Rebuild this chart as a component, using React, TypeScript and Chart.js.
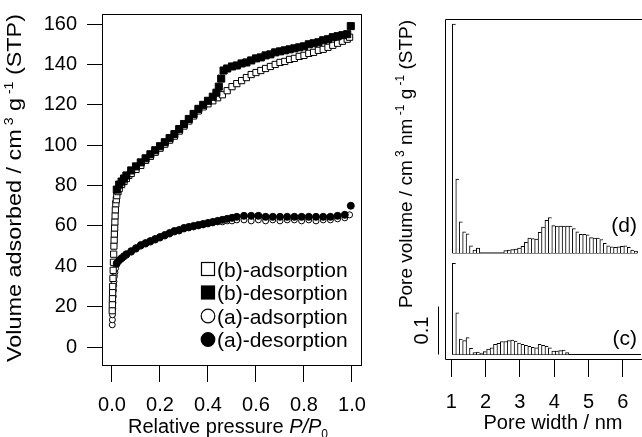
import React, { useEffect, useRef } from "react";
import { Chart, registerables } from "chart.js";

Chart.register(...registerables);

const FONT = '"Liberation Sans", Arial, Helvetica, sans-serif';

// ---------- Isotherms (left panel) ----------
const bAdsP = [0.001, 0.0015, 0.002, 0.0025, 0.003, 0.004, 0.005, 0.006, 0.007, 0.008, 0.009, 0.010, 0.011, 0.012, 0.013, 0.014, 0.016, 0.018, 0.020, 0.025, 0.03, 0.04, 0.05, 0.06, 0.07, 0.08, 0.10, 0.12, 0.14, 0.16, 0.18, 0.20, 0.22, 0.24, 0.26, 0.28, 0.30, 0.32, 0.34, 0.36, 0.38, 0.40, 0.42, 0.44, 0.46, 0.48, 0.50, 0.52, 0.54, 0.56, 0.58, 0.60, 0.62, 0.64, 0.66, 0.68, 0.70, 0.72, 0.74, 0.76, 0.78, 0.80, 0.82, 0.84, 0.86, 0.88, 0.90, 0.92, 0.94, 0.96, 0.98, 0.99];
const bAdsV = [18, 21, 24, 27, 30, 34, 38, 42, 46, 50, 53, 56, 59, 62, 65, 68, 71, 73, 75, 77, 78.5, 80.5, 82, 83.5, 85, 86, 88, 90, 92.5, 94.5, 96.5, 98.5, 100.5, 102.5, 104.5, 107, 109.5, 112, 114.5, 117, 119, 120.5, 122, 123.5, 125, 127, 129, 130.5, 132, 133.5, 135, 136, 137, 138, 139, 140, 141, 141.5, 142.5, 143, 144, 144.5, 145.5, 146, 147, 147.5, 148.5, 149.5, 150.5, 151.5, 152.5, 153.5];

const bDesP = [0.995, 0.98, 0.96, 0.94, 0.92, 0.90, 0.88, 0.86, 0.84, 0.82, 0.80, 0.78, 0.76, 0.74, 0.72, 0.70, 0.68, 0.66, 0.64, 0.62, 0.60, 0.58, 0.56, 0.54, 0.52, 0.50, 0.48, 0.465, 0.455, 0.445, 0.435, 0.42, 0.40, 0.38, 0.36, 0.34, 0.32, 0.30, 0.28, 0.26, 0.24, 0.22, 0.20, 0.18, 0.16, 0.14, 0.12, 0.10, 0.08, 0.06, 0.05, 0.04, 0.03, 0.02];
const bDesV = [159, 155, 154.5, 154, 153.5, 152.5, 152, 151, 150.5, 150, 149, 148.5, 148, 147.5, 147, 146.5, 146, 145, 144.5, 143.5, 143, 142, 141, 140.5, 139.5, 139, 138, 137, 133, 129, 126, 124, 122, 120, 118, 115.5, 113, 110.5, 108, 105.5, 103.5, 101.5, 99.5, 97.5, 95.5, 93.5, 91.5, 89.5, 87.5, 85, 83.5, 82, 80.5, 78];

const aAdsP = [0.001, 0.0015, 0.002, 0.003, 0.004, 0.005, 0.006, 0.007, 0.008, 0.010, 0.012, 0.015, 0.02, 0.03, 0.04, 0.05, 0.06, 0.08, 0.10, 0.12, 0.14, 0.16, 0.18, 0.20, 0.22, 0.24, 0.26, 0.28, 0.30, 0.32, 0.34, 0.36, 0.38, 0.40, 0.42, 0.44, 0.46, 0.48, 0.50, 0.52, 0.55, 0.58, 0.61, 0.64, 0.67, 0.70, 0.73, 0.76, 0.79, 0.82, 0.85, 0.88, 0.91, 0.94, 0.97, 0.99];
const aAdsV = [11, 13.5, 16, 19, 22, 25, 28, 30.5, 32.5, 35, 37, 39, 41, 43, 44, 45, 45.5, 47, 48.5, 50, 51, 52, 53, 54, 55, 56, 57, 57.5, 58.5, 59, 59.5, 60, 60.5, 61, 61.5, 62, 62, 62.5, 62.5, 63, 63, 62.5, 63, 62.5, 63, 62.5, 63, 63, 62.5, 63, 62.5, 63, 63, 63.5, 64, 65.5];

const aDesP = [0.995, 0.97, 0.94, 0.91, 0.88, 0.85, 0.82, 0.79, 0.76, 0.73, 0.70, 0.67, 0.64, 0.61, 0.58, 0.55, 0.52, 0.50, 0.48, 0.46, 0.44, 0.42, 0.40, 0.38, 0.36, 0.34, 0.32, 0.30, 0.28, 0.26, 0.24, 0.22, 0.20, 0.18, 0.16, 0.14, 0.12, 0.10, 0.08, 0.06, 0.05, 0.04, 0.03, 0.02];
const aDesV = [70, 65.5, 65, 64.5, 64.5, 64.5, 64.5, 64.5, 64.5, 64.5, 64.5, 64.5, 64.5, 65, 65, 65, 64.5, 64, 63.5, 63, 62.5, 62, 61.5, 61, 60.5, 60, 59.5, 59, 58, 57.5, 56.5, 55.5, 54.5, 53.5, 52.5, 51.5, 50.5, 49, 47.5, 46, 45, 44, 43, 41.5];

const isoXTicks = [0, 0.2, 0.4, 0.6, 0.8, 1.0];
const isoYTicks = [0, 20, 40, 60, 80, 100, 120, 140, 160];
const legendLabels = ["(b)-adsorption", "(b)-desorption", "(a)-adsorption", "(a)-desorption"];

// ---------- Pore size distributions (right panel) ----------
const binWidth = 0.1;
const binCenters = [1.08, 1.18, 1.28, 1.38, 1.48, 1.58, 1.68, 1.78, 1.88, 1.98, 2.08, 2.18, 2.28, 2.38, 2.48, 2.58, 2.68, 2.78, 2.88, 2.98, 3.08, 3.18, 3.28, 3.38, 3.48, 3.58, 3.68, 3.78, 3.88, 3.98, 4.08, 4.18, 4.28, 4.38, 4.48, 4.58, 4.68, 4.78, 4.88, 4.98, 5.08, 5.18, 5.28, 5.38, 5.48, 5.58, 5.68, 5.78, 5.88, 5.98, 6.08, 6.18, 6.28, 6.38, 6.48];
const cValues = [0.190, 0.087, 0.032, 0.029, 0.035, 0.013, 0.004, 0.005, 0.003, 0.006, 0.011, 0.014, 0.021, 0.023, 0.027, 0.027, 0.029, 0.030, 0.028, 0.024, 0.021, 0.019, 0.017, 0.015, 0.014, 0.021, 0.019, 0.017, 0.014, 0.007, 0.007, 0.008, 0.009, 0.004, 0, 0, 0, 0, 0, 0, 0, 0, 0, 0, 0, 0, 0, 0, 0, 0, 0, 0, 0, 0, 0];
const dValues = [0.477, 0.154, 0.065, 0.044, 0.040, 0.015, 0.006, 0.010, 0, 0, 0, 0, 0, 0, 0, 0.005, 0.006, 0.007, 0.008, 0.010, 0.014, 0.022, 0.031, 0.030, 0.029, 0.043, 0.054, 0.068, 0.074, 0.057, 0.056, 0.056, 0.056, 0.056, 0.056, 0.051, 0.044, 0.039, 0.039, 0.038, 0.032, 0.031, 0.031, 0.028, 0.020, 0.015, 0.013, 0.012, 0.013, 0.014, 0.015, 0.012, 0.006, 0.004];
const cOffset = 0;
const dOffset = 0.2115;
const psdXTicks = [1, 2, 3, 4, 5, 6];
const scaleBarValue = 0.1;

// ---------- helpers ----------
type Part = { t: string; sup?: boolean; sub?: boolean; it?: boolean };

function partFont(p: Part, size: number) {
  const s = p.sup || p.sub ? Math.round(size * 0.62) : size;
  return `${p.it ? "italic " : ""}${s}px ${FONT}`;
}

function richWidth(ctx: CanvasRenderingContext2D, parts: Part[], size: number) {
  let w = 0;
  for (const p of parts) {
    ctx.font = partFont(p, size);
    w += ctx.measureText(p.t).width;
  }
  return w;
}

function drawRich(
  ctx: CanvasRenderingContext2D,
  parts: Part[],
  cx: number,
  cy: number,
  size: number,
  opts: { rotate?: boolean; fit?: number; align?: "center" | "left" | "right" } = {}
) {
  ctx.save();
  ctx.translate(cx, cy);
  if (opts.rotate) ctx.rotate(-Math.PI / 2);
  const w = richWidth(ctx, parts, size);
  if (opts.fit) ctx.scale(opts.fit / w, 1);
  let x = opts.align === "left" ? 0 : opts.align === "right" ? -w : -w / 2;
  const base = size * 0.36;
  ctx.fillStyle = "#000";
  ctx.textBaseline = "alphabetic";
  ctx.textAlign = "left";
  for (const p of parts) {
    ctx.font = partFont(p, size);
    let y = base;
    if (p.sup) y = base - size * 0.42;
    if (p.sub) y = base + size * 0.22;
    ctx.fillText(p.t, x, y);
    x += ctx.measureText(p.t).width;
  }
  ctx.restore();
}

const zip = (xs: number[], ys: number[]) => xs.map((x, i) => ({ x, y: ys[i] }));

const tickFont = { family: FONT, size: 20 };

export default function App() {
  const leftRef = useRef<HTMLCanvasElement>(null);
  const rightRef = useRef<HTMLCanvasElement>(null);

  useEffect(() => {
    // ----- left chart -----
    const leftPlugin = {
      id: "leftDecor",
      afterDraw(chart: any) {
        const ctx: CanvasRenderingContext2D = chart.ctx;
        const a = chart.chartArea;
        ctx.save();
        ctx.strokeStyle = "#000";
        ctx.lineWidth = 1;
        ctx.strokeRect(Math.round(a.left) - 0.5, Math.round(a.top) + 0.5, Math.round(a.right - a.left), Math.round(a.bottom - a.top) - 1);
        // legend
        const rows = [97, 73.5, 50, 26.5];
        legendLabels.forEach((lab, i) => {
          const ds = chart.data.datasets.find((d: any) => d.label === lab);
          const y = a.bottom - rows[i];
          const mx = a.left + 105;
          ctx.fillStyle = ds.backgroundColor;
          ctx.strokeStyle = ds.borderColor;
          ctx.lineWidth = 1.2;
          if (ds.pointStyle === "rect") {
            ctx.fillRect(mx - 6.5, y - 6.5, 13, 13);
            ctx.strokeRect(mx - 6.5, y - 6.5, 13, 13);
          } else {
            ctx.beginPath();
            ctx.arc(mx, y, 6.8, 0, Math.PI * 2);
            ctx.fill();
            ctx.stroke();
          }
          drawRich(ctx, [{ t: lab }], a.left + 114, y, 21, { align: "left" });
        });
        ctx.restore();
        // axis titles
        drawRich(
          ctx,
          [{ t: "Volume adsorbed / cm" }, { t: " 3", sup: true }, { t: " g" }, { t: " -1", sup: true }, { t: " (STP)" }],
          14,
          188,
          20,
          { rotate: true, fit: 348 }
        );
        drawRich(
          ctx,
          [{ t: "Relative pressure " }, { t: "P/P", it: true }, { t: "0", sub: true }],
          228,
          426,
          20
        );
      },
    };

    const ptBase = { borderColor: "#000", borderWidth: 1, showLine: false };
    const c1 = new Chart(leftRef.current as HTMLCanvasElement, {
      type: "scatter",
      data: {
        datasets: [
          { ...ptBase, label: "(b)-desorption", data: zip(bDesP, bDesV), pointStyle: "rect", pointRadius: 5, backgroundColor: "#000", order: 0 },
          { ...ptBase, label: "(a)-desorption", data: zip(aDesP, aDesV), pointStyle: "circle", pointRadius: 3.5, backgroundColor: "#000", order: 0 },
          { ...ptBase, label: "(b)-adsorption", data: zip(bAdsP, bAdsV), pointStyle: "rect", pointRadius: 4.4, backgroundColor: "#fff", order: 1 },
          { ...ptBase, label: "(a)-adsorption", data: zip(aAdsP, aAdsV), pointStyle: "circle", pointRadius: 3, backgroundColor: "#fff", order: 1 },
        ],
      } as any,
      options: {
        animation: false,
        responsive: false,
        maintainAspectRatio: false,
        layout: { padding: { top: 14, right: 28, left: 0, bottom: 0 } },
        plugins: { legend: { display: false }, tooltip: { enabled: false } },
        scales: {
          x: {
            type: "linear",
            min: -0.0375,
            max: 1.0417,
            afterBuildTicks: (s: any) => {
              s.ticks = isoXTicks.map((v) => ({ value: v }));
            },
            afterFit: (s: any) => {
              s.height = 71;
              s.paddingLeft = 0;
              s.paddingRight = 0;
            },
            grid: { display: true, drawOnChartArea: false, drawTicks: true, tickLength: 16, color: "#000", lineWidth: 1 },
            border: { display: false },
            ticks: { font: tickFont, color: "#000", padding: 11, maxRotation: 0, autoSkip: false, callback: (v: any) => Number(v).toFixed(1) },
          },
          y: {
            type: "linear",
            min: -9.4,
            max: 165,
            afterBuildTicks: (s: any) => {
              s.ticks = isoYTicks.map((v) => ({ value: v }));
            },
            afterFit: (s: any) => {
              s.width = 103;
              s.paddingTop = 0;
              s.paddingBottom = 0;
            },
            grid: { display: true, drawOnChartArea: false, drawTicks: true, tickLength: 16, color: "#000", lineWidth: 1 },
            border: { display: false },
            ticks: { font: tickFont, color: "#000", padding: 10, autoSkip: false, callback: (v: any) => String(v) },
          },
        },
      } as any,
      plugins: [leftPlugin],
    } as any);

    // ----- right chart -----
    const mkBars = (vals: number[], off: number) =>
      binCenters
        .map((x, i) => ({ x, v: vals[i] }))
        .filter((p) => p.v !== undefined && p.v > 0)
        .map((p) => ({ x: p.x, y: [off, off + p.v] }));
    const cBars = mkBars(cValues, cOffset);
    const dBars = mkBars(dValues, dOffset);
    const baseLine = (vals: number[], off: number) => [
      { x: binCenters[0] - binWidth / 2, y: off },
      { x: binCenters[vals.length - 1] + binWidth / 2, y: off },
    ];
    const barBorder = (ctx: any) => {
      const data = ctx.dataset.data;
      const i = ctx.dataIndex;
      const next = data[i + 1];
      const last = !next || next.x - data[i].x > binWidth * 1.5;
      return { left: 1, top: 1, bottom: 0, right: last ? 1 : 0 };
    };
    const barBase = {
      type: "bar",
      backgroundColor: "#fff",
      borderColor: "#000",
      borderWidth: barBorder,
      borderSkipped: false,
      grouped: false,
      barPercentage: 1,
      categoryPercentage: 1,
    };
    const lineBase = { type: "line", borderColor: "#000", borderWidth: 1, pointRadius: 0, fill: false };

    const rightPlugin = {
      id: "rightDecor",
      afterDraw(chart: any) {
        const ctx: CanvasRenderingContext2D = chart.ctx;
        const a = chart.chartArea;
        const ys = chart.scales.y;
        ctx.save();
        ctx.strokeStyle = "#000";
        ctx.lineWidth = 1;
        const l = Math.round(a.left) - 0.5;
        const t = Math.round(a.top) + 0.5;
        const b = Math.round(a.bottom) - 0.5;
        ctx.beginPath();
        ctx.moveTo(chart.width, t);
        ctx.lineTo(l, t);
        ctx.lineTo(l, b);
        ctx.lineTo(chart.width, b);
        ctx.stroke();
        // scale bar
        const y0 = ys.getPixelForValue(cOffset);
        const y1 = ys.getPixelForValue(cOffset + scaleBarValue);
        const sx = Math.round(a.left) - 7.5;
        ctx.beginPath();
        ctx.moveTo(sx, y0);
        ctx.lineTo(sx, y1);
        ctx.stroke();
        ctx.restore();
        drawRich(ctx, [{ t: String(scaleBarValue) }], 31, (y0 + y1) / 2, 20, { rotate: true });
        drawRich(ctx, [{ t: "(d)" }], a.right - 5, ys.getPixelForValue(dOffset + 0.06), 21, { align: "right" });
        drawRich(ctx, [{ t: "(c)" }], a.right - 5, ys.getPixelForValue(cOffset + 0.035), 21, { align: "right" });
        drawRich(
          ctx,
          [{ t: "Pore volume / cm" }, { t: " 3", sup: true }, { t: " nm" }, { t: " -1", sup: true }, { t: " g" }, { t: " -1", sup: true }, { t: " (STP)" }],
          15,
          164,
          19,
          { rotate: true }
        );
        drawRich(ctx, [{ t: "Pore width / nm" }], 163, 422, 20);
      },
    };

    const c2 = new Chart(rightRef.current as HTMLCanvasElement, {
      type: "bar",
      data: {
        datasets: [
          { ...barBase, label: "(c)", data: cBars },
          { ...barBase, label: "(d)", data: dBars },
          { ...lineBase, label: "c-base", data: baseLine(cValues, cOffset) },
          { ...lineBase, label: "d-base", data: baseLine(dValues, dOffset) },
        ],
      } as any,
      options: {
        animation: false,
        responsive: false,
        maintainAspectRatio: false,
        layout: { padding: { top: 19, right: 0, left: 0, bottom: 0 } },
        plugins: { legend: { display: false }, tooltip: { enabled: false } },
        scales: {
          x: {
            type: "linear",
            offset: false,
            min: 0.845,
            max: 6.56,
            afterBuildTicks: (s: any) => {
              s.ticks = psdXTicks.map((v) => ({ value: v }));
            },
            afterFit: (s: any) => {
              s.height = 77;
              s.paddingLeft = 0;
              s.paddingRight = 0;
            },
            grid: { display: true, offset: false, drawOnChartArea: false, drawTicks: true, tickLength: 17, color: "#000", lineWidth: 1 },
            border: { display: false },
            ticks: { font: tickFont, color: "#000", padding: 13, maxRotation: 0, autoSkip: false, callback: (v: any) => String(v) },
          },
          y: {
            type: "linear",
            min: -0.0115,
            max: 0.699,
            afterFit: (s: any) => {
              s.width = 56;
              s.paddingTop = 0;
              s.paddingBottom = 0;
            },
            grid: { display: false },
            border: { display: false },
            ticks: { display: false },
          },
        },
      } as any,
      plugins: [rightPlugin],
    } as any);

    return () => {
      c1.destroy();
      c2.destroy();
    };
  }, []);

  return (
    <div style={{ position: "absolute", left: 0, top: 0, width: 642, height: 437, background: "#fff", overflow: "hidden" }}>
      <canvas ref={leftRef} width={390} height={437} style={{ position: "absolute", left: 0, top: 0, width: 390, height: 437 }} />
      <canvas ref={rightRef} width={252} height={437} style={{ position: "absolute", left: 390, top: 0, width: 252, height: 437 }} />
    </div>
  );
}
